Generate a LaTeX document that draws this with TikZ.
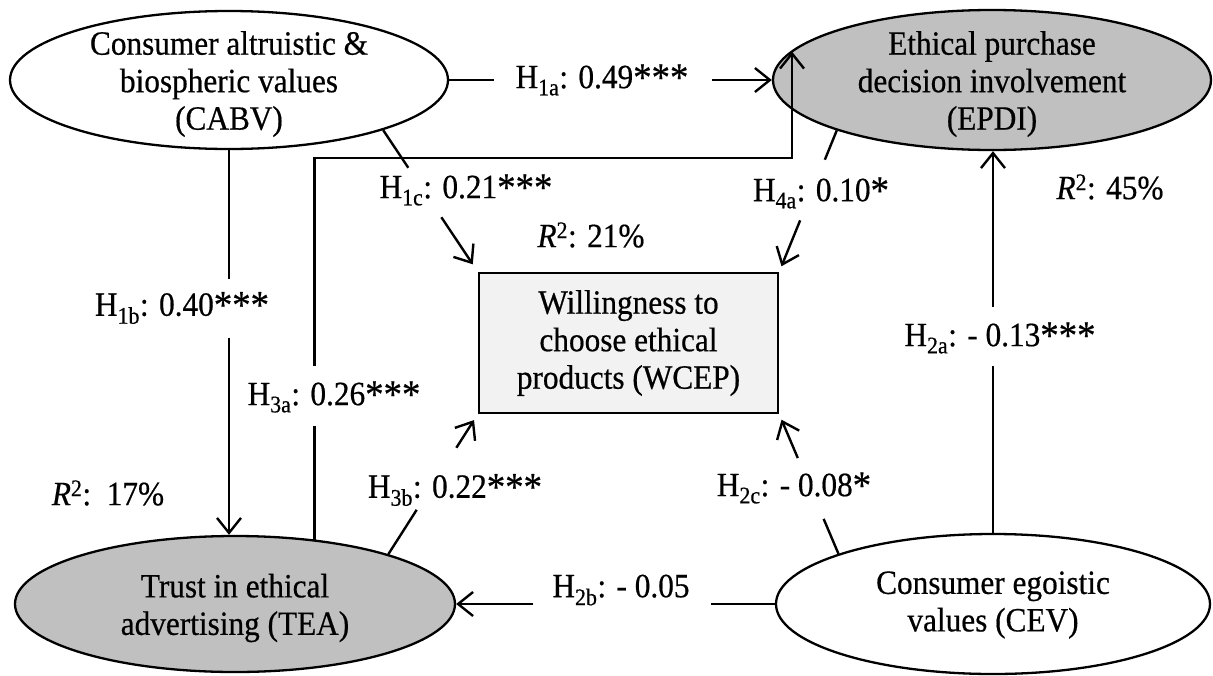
\documentclass[tikz,border=0pt]{standalone}
\usepackage{fontspec}
\setmainfont{Liberation Serif}[FakeBold=0.5,FakeStretch=0.92]
\usetikzlibrary{shapes.geometric,arrows.meta,calc}
\definecolor{lvgray}{HTML}{C0C0C0}
\definecolor{boxfill}{HTML}{F2F2F2}
\newcommand\hsub[1]{H\textsubscript{#1}}
\newcommand\rsq{\textit{R}\textsuperscript{2}}
\newcommand\sig[1]{\raisebox{-2.5pt}{\fontsize{40}{37.5}\selectfont #1}}
\begin{document}
\begin{tikzpicture}[x=1pt,y=-1pt,
  every node/.style={font=\fontsize{34}{37.5}\selectfont},
  lv/.style={ellipse,draw,line width=2.3pt,inner sep=0pt},
  lvtext/.style={align=center,inner sep=0pt},
  con/.style={line width=2.4pt},
  arr/.style={con,-{Straight Barb[length=15pt,width=24pt]}},
  lab/.style={inner sep=0pt}]
\useasboundingbox (0,0) rectangle (1213,675);

% latent variables
\node[lv,fill=white,minimum width=438pt,minimum height=138pt] (CABV) at (229,80) {};
\node[lvtext] (CABVt) at (229,84) {Consumer altruistic \&\\biospheric values\\(CABV)};
\node[lv,fill=lvgray,minimum width=438pt,minimum height=140pt] (EPDI) at (992,80) {};
\node[lvtext] (EPDIt) at (992,84) {Ethical purchase\\decision involvement\\(EPDI)};
\node[lv,fill=lvgray,minimum width=440pt,minimum height=136pt] (TEA) at (235,604) {};
\node[lvtext] (TEAt) at (235,608) {Trust in ethical\\advertising (TEA)};
\node[lv,fill=white,minimum width=434pt,minimum height=140pt] (CEV) at (993,604) {};
\node[lvtext] (CEVt) at (993,605) {Consumer egoistic\\values (CEV)};

\node[draw,line width=2.4pt,fill=boxfill,minimum width=299pt,minimum height=140pt,
      inner sep=0pt,align=center] (WCEP) at (628.5,343) {Willingness to\\choose ethical\\products (WCEP)};

% H1a
\path (CABV.east) -- (EPDI.west) coordinate[pos=0.138] (g1a1) coordinate[pos=0.815] (g1a2);
\draw[con] (CABV.east) -- (g1a1);
\draw[arr] (g1a2) -- (EPDI.west);
% H1b
\path (CABV.south) -- (CABV.south |- TEA.north) coordinate[pos=0.334] (g1b1) coordinate[pos=0.488] (g1b2);
\draw[con] (CABV.south) -- (g1b1);
\draw[arr] (g1b2) -- (g1b2 |- TEA.north);
% H1c
\path (CABV.-18) -- (WCEP.north west) coordinate[pos=0.266] (g1c1) coordinate[pos=0.615] (g1c2);
\draw[con] (CABV.-18) -- (g1c1);
\draw[arr,shorten >=9pt] (g1c2) -- (WCEP.north west);
% H4a
\path (EPDI.198) -- (WCEP.north east) coordinate[pos=0.207] (g4a1) coordinate[pos=0.636] (g4a2);
\draw[con] (EPDI.198) -- (g4a1);
\draw[arr,shorten >=6pt] (g4a2) -- (WCEP.north east);
% H2a
\path (CEV.north) -- (CEV.north |- EPDI.south) coordinate[pos=0.436] (g2a1) coordinate[pos=0.593] (g2a2);
\draw[con] (CEV.north) -- (g2a1);
\draw[arr] (g2a2) -- (g2a2 |- EPDI.south);
% H2b
\path (CEV.west) -- (CEV.west -| TEA.east) coordinate[pos=0.199] (g2b1) coordinate[pos=0.758] (g2b2);
\draw[con] (CEV.west) -- (g2b1);
\draw[arr] (g2b2) -- (g2b2 -| TEA.east);
% H2c
\path (CEV.162) -- (WCEP.south east) coordinate[pos=0.25] (g2c1) coordinate[pos=0.686] (g2c2);
\draw[con] (CEV.162) -- (g2c1);
\draw[arr,shorten >=6pt] (g2c2) -- (WCEP.south east);
% H3b
\path (TEA.18) -- (WCEP.south west) coordinate[pos=0.317] (g3b1) coordinate[pos=0.76] (g3b2);
\draw[con] (TEA.18) -- (g3b1);
\draw[arr,shorten >=7pt] (g3b2) -- (WCEP.south west);
% H3a
\coordinate (g3a1) at ($(TEA.39)+(0,-114)$);
\coordinate (g3a2) at ($(TEA.39)+(0,-174)$);
\coordinate (h3) at (792,158);
\draw[con] (TEA.39) -- (g3a1);
\draw[arr] (g3a2) |- (h3) -- (h3 |- EPDI.172);

% labels
\node[lab] (L1a) at (602,80) {\hsub{1a}: 0.49\sig{***}};
\node[lab] (L1b) at (182,308) {\hsub{1b}: 0.40\sig{***}};
\node[lab] (L1c) at (466,190) {\hsub{1c}: 0.21\sig{***}};
\node[lab] (L4a) at (821,193) {\hsub{4a}: 0.10\sig{*}};
\node[lab] (L2a) at (1000,338) {\hsub{2a}: - 0.13\sig{***}};
\node[lab] (L3a) at (334,397) {\hsub{3a}: 0.26\sig{***}};
\node[lab] (L3b) at (455,490) {\hsub{3b}: 0.22\sig{***}};
\node[lab] (L2c) at (794,488) {\hsub{2c}: - 0.08\sig{*}};
\node[lab] (L2b) at (621,590) {\hsub{2b}: - 0.05};
\node[lab] (R21) at (591,235) {\rsq: 21\%};
\node[lab] (R45) at (1110,187) {\rsq: 45\%};
\node[lab] (R17) at (108,493) {\rsq:\ \ 17\%};
\end{tikzpicture}
\end{document}
